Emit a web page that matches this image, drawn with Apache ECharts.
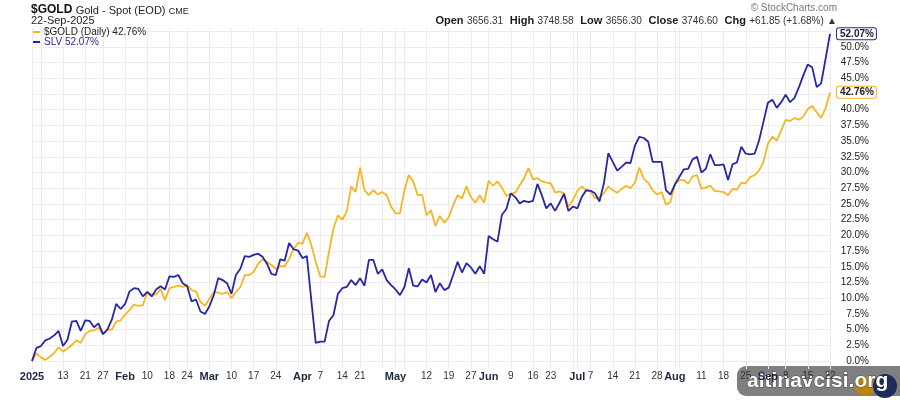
<!DOCTYPE html>
<html>
<head>
<meta charset="utf-8">
<title>$GOLD vs SLV</title>
<script src="https://cdn.jsdelivr.net/npm/echarts@6/dist/echarts.min.js"></script>
<style>
  html, body { margin: 0; padding: 0; background: #fff; }
  #chart { width: 900px; height: 400px; }
</style>
</head>
<body>
<div id="chart"></div>
<script>
// trading calendar (weekdays minus market holidays)
const startDate = '2025-01-02'
const endDate = '2025-09-22'
const holidays = ['2025-01-20', '2025-02-17', '2025-04-18', '2025-05-26', '2025-06-19', '2025-07-04', '2025-09-01']

// dates that get a label under the x axis
const labelDates = [
  '2025-01-02', '2025-01-13', '2025-01-21', '2025-01-27',
  '2025-02-03', '2025-02-10', '2025-02-18', '2025-02-24',
  '2025-03-03', '2025-03-10', '2025-03-17', '2025-03-24',
  '2025-04-01', '2025-04-07', '2025-04-14', '2025-04-21',
  '2025-05-01', '2025-05-12', '2025-05-19', '2025-05-27',
  '2025-06-02', '2025-06-09', '2025-06-16', '2025-06-23',
  '2025-07-01', '2025-07-07', '2025-07-14', '2025-07-21', '2025-07-28',
  '2025-08-01', '2025-08-11', '2025-08-18', '2025-08-25',
  '2025-09-02', '2025-09-08', '2025-09-15', '2025-09-22'
]
const monthNames = ['Jan', 'Feb', 'Mar', 'Apr', 'May', 'Jun', 'Jul', 'Aug', 'Sep', 'Oct', 'Nov', 'Dec']

// % change since 2 Jan 2025, one value per trading day
const goldPct = [
  0.0, 1.2, 0.6, 0.2, 0.7, 1.3, 2.2, 1.5, 2.0, 2.6, 3.3, 2.9, 4.3, 4.8, 4.9, 5.3, 4.3, 5.0, 5.0, 6.3, 6.5,
  7.4, 8.1, 9.0, 8.8, 8.9, 11.0, 10.6, 10.6, 11.5, 9.7, 11.6, 11.8, 12.0, 11.8, 12.1, 11.3, 11.1, 9.4, 8.8,
  9.9, 11.0, 10.9, 10.7, 11.0, 10.0, 11.0, 11.8, 13.7, 13.7, 14.2, 15.5, 16.2, 15.8, 15.3, 14.7, 15.1, 15.1, 16.3, 17.8, 18.8,
  18.7, 20.4, 18.5, 15.8, 13.5, 13.4, 17.4, 21.1, 23.2, 22.5, 23.8, 27.8, 26.9, 30.8, 27.2, 26.4, 27.2, 26.5, 26.9, 26.4, 24.6,
  23.5, 23.5, 27.2, 29.6, 28.6, 26.4, 26.5, 23.2, 24.0, 21.5, 23.1, 22.0, 22.9, 24.8, 26.4, 25.9, 27.8, 26.1, 25.2, 26.4, 25.2,
  28.7, 27.9, 28.6, 27.6, 26.3, 26.6, 26.8, 28.0, 29.1, 30.7, 28.9, 29.1, 28.6, 28.4, 28.3, 26.8, 27.0, 26.7, 24.6,
  25.6, 27.1, 27.8, 27.1, 27.0, 25.9, 26.1, 26.7, 27.8, 27.2, 26.8, 27.4, 27.9, 27.5, 28.4, 30.8, 29.0, 28.4, 27.2, 26.5, 26.9, 24.9,
  25.3, 28.1, 28.8, 28.8, 28.2, 29.4, 29.6, 27.4, 27.6, 27.9, 27.1, 27.0, 26.9, 26.4, 27.4, 27.3, 28.4, 28.3, 29.3, 29.6, 30.3,
  31.7, 34.6, 35.7, 35.1, 36.7, 38.4, 38.2, 38.7, 38.4, 38.9, 40.1, 40.6, 39.6, 38.7, 40.2, 42.76
]
const slvPct = [
  0.0, 2.1, 2.4, 3.3, 3.6, 4.1, 4.8, 2.4, 3.4, 6.3, 6.4, 4.8, 6.5, 6.4, 5.4, 6.0, 4.3, 5.0, 6.6, 9.1, 8.3,
  9.1, 11.1, 11.6, 11.5, 10.3, 11.0, 10.3, 11.4, 11.9, 11.4, 13.5, 13.4, 13.7, 12.4, 11.9, 9.5, 9.8, 7.9, 7.5,
  8.7, 10.5, 13.2, 12.9, 12.4, 10.7, 13.7, 14.7, 16.7, 16.6, 16.9, 17.1, 16.6, 15.5, 13.9, 13.7, 16.2, 16.0, 18.8, 17.8, 17.6,
  16.4, 16.7, 9.7, 2.9, 3.1, 3.1, 6.4, 7.3, 10.7, 11.6, 11.8, 12.9, 12.1, 13.2, 12.0, 16.1, 16.1, 13.9, 14.6, 12.9, 12.1,
  11.4, 10.5, 11.8, 14.8, 12.0, 11.9, 13.0, 12.5, 13.7, 11.0, 12.4, 11.3, 11.7, 13.7, 15.8, 14.1, 15.6, 14.9, 13.9, 15.1, 13.9,
  19.9, 19.4, 19.0, 23.3, 24.2, 26.7, 26.1, 25.1, 25.5, 25.3, 25.5, 28.2, 26.4, 24.3, 25.1, 23.9, 25.2, 26.6, 23.9,
  24.6, 24.3, 26.1, 27.2, 27.1, 26.7, 25.4, 28.3, 33.1, 31.7, 30.3, 30.9, 31.6, 31.5, 34.3, 35.7, 35.5, 34.9, 31.7, 31.7, 31.7, 27.2,
  26.5, 28.1, 29.3, 30.5, 30.6, 32.1, 32.5, 30.0, 30.6, 32.9, 31.2, 31.2, 31.3, 28.8, 31.3, 31.6, 34.1, 33.0, 32.9, 33.0, 35.1,
  38.1, 41.1, 41.6, 40.3, 41.2, 42.4, 41.2, 41.9, 43.6, 45.5, 47.2, 46.7, 43.6, 44.2, 48.1, 52.07
]

// quote line in the header
const quoteNames = ['Open', 'High', 'Low', 'Close', 'Chg']
const quoteValues = ['3656.31', '3748.58', '3656.30', '3746.60', '+61.85 (+1.68%)']

const GOLD_COLOR = '#f7b523'
const SLV_COLOR = '#2626a6'
const GRID_COLOR = '#ececec'
const FONT = 'Liberation Sans, Arial, sans-serif'

const days = []
for (let t = Date.parse(startDate); t <= Date.parse(endDate); t += 86400000) {
  const d = new Date(t)
  const s = d.toISOString().slice(0, 10)
  const wd = d.getUTCDay()
  if (wd === 0 || wd === 6 || holidays.includes(s)) continue
  days.push(s)
}

// vertical grid: first trading day of each week or month
const gridDays = new Set(days.filter((d, i) => {
  if (i === 0) return true
  const prev = days[i - 1]
  return new Date(d).getUTCDay() <= new Date(prev).getUTCDay() || d.slice(5, 7) !== prev.slice(5, 7)
}))
const labelSet = new Set(labelDates)

const last = arr => arr[arr.length - 1]

const endLabel = color => ({
  show: true,
  distance: 7,
  formatter: p => p.value.toFixed(2) + '%',
  fontSize: 10,
  fontWeight: 'bold',
  color: '#222',
  backgroundColor: '#fff',
  borderColor: color,
  borderWidth: 1,
  borderRadius: 2,
  padding: [1, 2, 0, 3]
})

const chart = echarts.init(document.getElementById('chart'))

chart.setOption({
  animation: false,
  textStyle: { fontFamily: FONT },
  grid: { left: 32, right: 70, top: 28, bottom: 31 },
  legend: {
    left: 33,
    top: 27,
    padding: 0,
    orient: 'vertical',
    icon: 'rect',
    itemWidth: 7,
    itemHeight: 2,
    itemGap: 0,
    selectedMode: false,
    textStyle: { fontSize: 10, lineHeight: 10, fontFamily: FONT, padding: [0, 0, 0, -1] },
    data: [
      { name: '$GOLD (Daily)', textStyle: { color: '#222' } },
      { name: 'SLV', textStyle: { color: SLV_COLOR } }
    ],
    formatter: name => name + ' ' + (name === 'SLV' ? last(slvPct) : last(goldPct)).toFixed(2) + '%'
  },
  xAxis: {
    type: 'category',
    data: days,
    boundaryGap: false,
    axisLine: { show: false },
    axisTick: { show: false },
    splitLine: {
      show: true,
      interval: (i, v) => gridDays.has(v),
      lineStyle: { color: GRID_COLOR, width: 1 }
    },
    axisLabel: {
      interval: (i, v) => labelSet.has(v),
      margin: 2,
      fontSize: 10,
      color: '#333',
      fontFamily: FONT,
      formatter: v => {
        const i = days.indexOf(v)
        if (i === 0) return '{b|' + v.slice(0, 4) + '}'
        if (v.slice(5, 7) !== days[i - 1].slice(5, 7)) return '{b|' + monthNames[+v.slice(5, 7) - 1] + '}'
        return String(+v.slice(8))
      },
      rich: { b: { fontWeight: 'bold', fontSize: 11, color: '#1c2840', fontFamily: FONT } }
    }
  },
  yAxis: {
    type: 'value',
    position: 'right',
    min: -1.25,
    max: 53,
    interval: 1.25,
    axisLine: { show: false },
    axisTick: { show: false },
    splitLine: { lineStyle: { color: ['transparent', GRID_COLOR], width: 1 } },
    axisLabel: {
      align: 'right',
      margin: 39,
      fontSize: 10,
      color: '#222',
      fontFamily: FONT,
      formatter: v => {
        const k = Math.round(v / 1.25)
        if (v < 0 || k % 2 !== 0 || v > 51) return ''
        return v.toFixed(1) + '%'
      }
    }
  },
  series: [
    {
      name: '$GOLD (Daily)',
      type: 'line',
      data: goldPct,
      showSymbol: false,
      color: GOLD_COLOR,
      lineStyle: { width: 1.8, color: GOLD_COLOR },
      endLabel: endLabel(GOLD_COLOR)
    },
    {
      name: 'SLV',
      type: 'line',
      data: slvPct,
      showSymbol: false,
      color: SLV_COLOR,
      lineStyle: { width: 1.8, color: SLV_COLOR },
      endLabel: endLabel(SLV_COLOR)
    }
  ],
  graphic: [
    {
      type: 'text',
      left: 31,
      top: 3,
      style: {
        text: '{b|$GOLD} {n|Gold - Spot (EOD)} {s|CME}',
        rich: {
          b: { fontSize: 12, fontWeight: 'bold', fill: '#111', fontFamily: FONT, lineHeight: 14, verticalAlign: 'bottom' },
          n: { fontSize: 11, fill: '#222', fontFamily: FONT, lineHeight: 14, verticalAlign: 'bottom' },
          s: { fontSize: 9, fill: '#222', fontFamily: FONT, lineHeight: 13, verticalAlign: 'bottom' }
        }
      }
    },
    {
      type: 'text',
      left: 31,
      top: 15,
      style: { text: '22-Sep-2025', fontSize: 11, fill: '#222', fontFamily: FONT }
    },
    {
      type: 'text',
      right: 63,
      top: 3,
      style: { text: '© StockCharts.com', fontSize: 10, fill: '#777', fontFamily: FONT }
    },
    {
      type: 'text',
      right: 63,
      top: 15,
      style: {
        text: quoteNames.map((n, i) => '{b|' + n + '} {n|' + quoteValues[i] + '}').join('  ') + ' {n|▲}',
        rich: {
          b: { fontSize: 11, fontWeight: 'bold', fill: '#1a1a1a', fontFamily: FONT },
          n: { fontSize: 10, fill: '#333', fontFamily: FONT }
        }
      }
    },
    {
      type: 'group',
      left: 737,
      top: 366,
      children: [
        { type: 'rect', shape: { x: 0, y: 0, width: 175, height: 30, r: 9 }, style: { fill: 'rgba(105,105,105,0.85)' } },
        { type: 'circle', shape: { cx: 128, cy: 20, r: 10 }, style: { fill: '#b8860b' } },
        { type: 'circle', shape: { cx: 148, cy: 20, r: 12 }, style: { fill: '#1c2b5c' } },
        {
          type: 'text',
          x: 10,
          y: 15,
          style: {
            text: 'altinavcisi.org',
            fontSize: 21,
            fontWeight: 'bold',
            fill: '#fff',
            fontFamily: FONT,
            verticalAlign: 'middle',
            stroke: 'rgba(40,40,40,0.6)',
            lineWidth: 1
          }
        }
      ]
    }
  ]
})
</script>
</body>
</html>
